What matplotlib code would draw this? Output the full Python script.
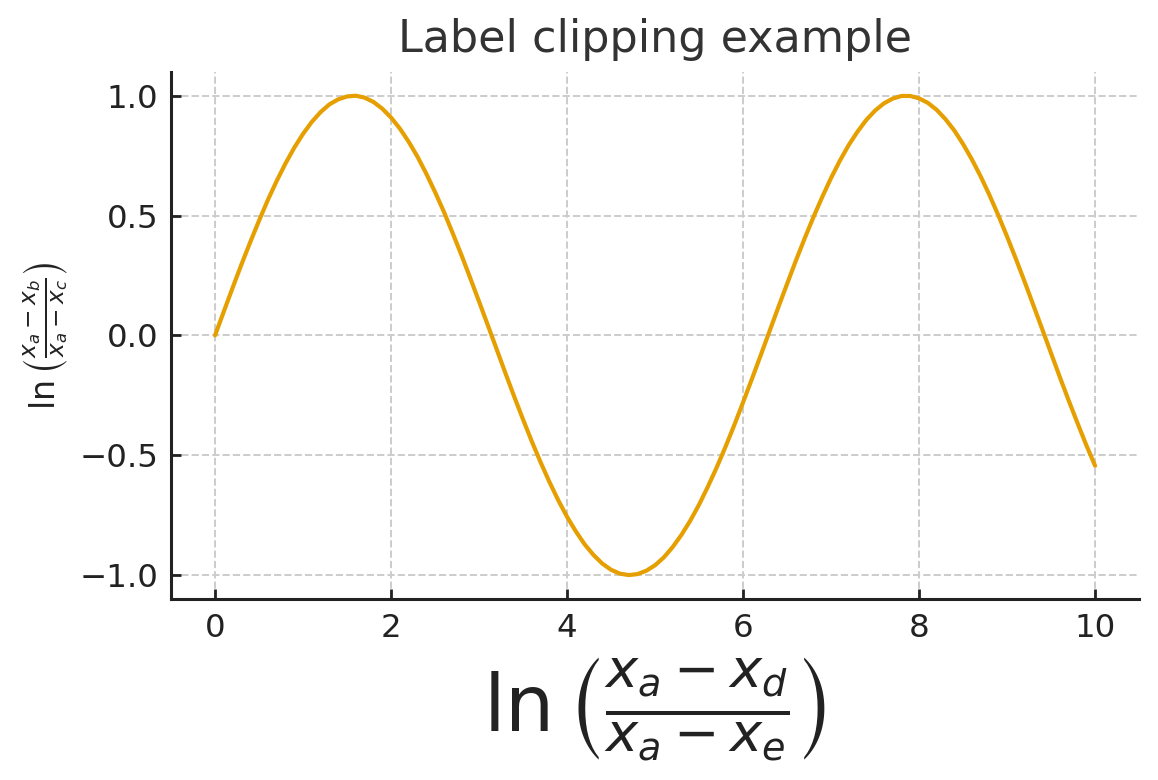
import matplotlib
matplotlib.use("Agg")
import matplotlib.pyplot as plt

x_values = [i / 10 for i in range(101)]
y_values = [0.000, 0.100, 0.199, 0.296, 0.389, 0.479, 0.565, 0.644, 0.717, 0.783,
            0.841, 0.891, 0.932, 0.964, 0.985, 0.997, 1.000, 0.992, 0.974, 0.946,
            0.909, 0.863, 0.808, 0.746, 0.675, 0.598, 0.516, 0.427, 0.335, 0.239,
            0.141, 0.042, -0.058, -0.158, -0.256, -0.351, -0.443, -0.530, -0.612, -0.688,
            -0.757, -0.818, -0.872, -0.916, -0.952, -0.978, -0.994, -1.000, -0.996, -0.982,
            -0.959, -0.926, -0.883, -0.832, -0.773, -0.706, -0.631, -0.551, -0.465, -0.374,
            -0.279, -0.182, -0.083, 0.017, 0.117, 0.215, 0.312, 0.405, 0.494, 0.578,
            0.657, 0.729, 0.794, 0.850, 0.899, 0.938, 0.968, 0.988, 0.999, 0.999,
            0.989, 0.970, 0.941, 0.902, 0.855, 0.798, 0.734, 0.663, 0.585, 0.501,
            0.412, 0.319, 0.223, 0.124, 0.025, -0.075, -0.175, -0.272, -0.366, -0.458,
            -0.544]
x_ticks = [0, 2, 4, 6, 8, 10]
y_ticks = [-1.0, -0.5, 0.0, 0.5, 1.0]

title = "Label clipping example"
xlabel = r"$\ln\left(\frac{x_a - x_d}{x_a - x_e}\right)$"
ylabel = r"$\ln\left(\frac{x_a - x_b}{x_a - x_c}\right)$"

text_color = "#222222"
fig = plt.figure(figsize=(5.79, 3.9), dpi=200)
ax = fig.add_axes([0.1477, 0.232, 0.836, 0.676])

ax.plot(x_values, y_values, color="#E69F00", linewidth=1.5, zorder=3,
        solid_joinstyle="round", solid_capstyle="round")
ax.set_xlim(-0.5, 10.5)
ax.set_ylim(-1.1, 1.1)
ax.set_xticks(x_ticks)
ax.set_yticks(y_ticks)
ax.set_yticklabels([f"{v:.1f}".replace("-", "\u2212") for v in y_ticks])
ax.grid(True, linestyle="--", color="#cccccc", linewidth=0.7)
ax.set_axisbelow(True)

for s in ["top", "right"]:
    ax.spines[s].set_visible(False)
for s in ["left", "bottom"]:
    ax.spines[s].set_color(text_color)
    ax.spines[s].set_linewidth(1.1)

ax.tick_params(axis="x", direction="in", length=3.6, width=1.0, colors=text_color, labelsize=11.7, pad=5)
ax.tick_params(axis="y", direction="in", length=3.6, width=1.0, colors=text_color, labelsize=11.7, pad=4.5)

ax.set_title(title, fontsize=16, color="#333333", pad=7)
ax.set_xlabel(xlabel, fontsize=28, color=text_color, labelpad=4)
ax.set_ylabel(ylabel, fontsize=12, color=text_color, labelpad=3.5)

fig.savefig("out.png", dpi=200)
